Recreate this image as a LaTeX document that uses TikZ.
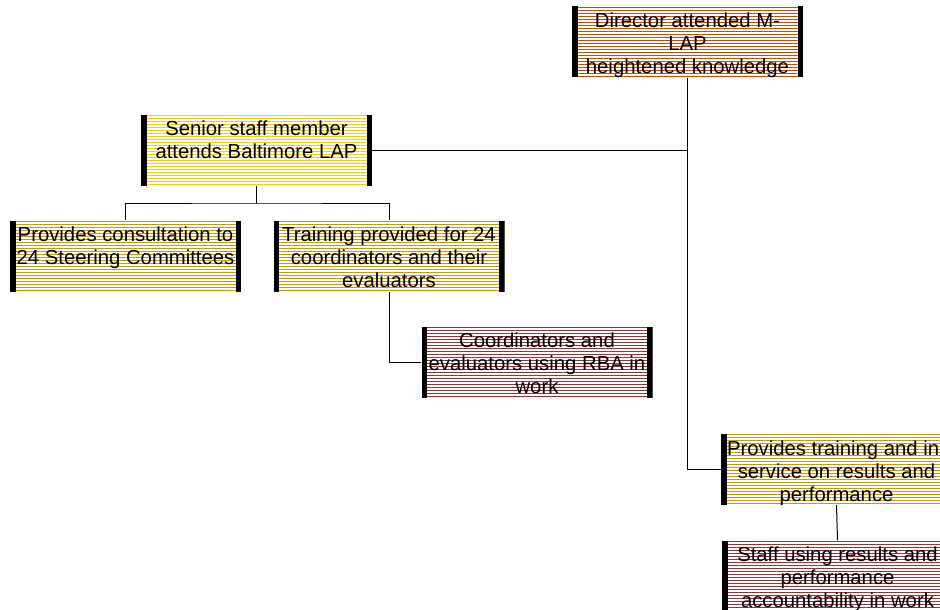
\documentclass[tikz,border=0pt]{standalone}
\usepackage{fontspec}
\setmainfont{Liberation Sans}
\definecolor{orangeS}{RGB}{204,76,0}
\definecolor{yellowS}{RGB}{255,204,0}
\definecolor{goldS}{RGB}{204,153,0}
\definecolor{maroonS}{RGB}{153,51,51}
\tikzset{
  striped/.style 2 args={rectangle, inner sep=0pt, minimum width=231pt, minimum height=71pt,
    path picture={
      \foreach \k in {0,...,23}
        \draw[#1, line width=#2]
          ([yshift={-(\k*3+0.75)*1pt}]path picture bounding box.north west) --
          ([yshift={-(\k*3+0.75)*1pt}]path picture bounding box.north east);
      \fill[black] (path picture bounding box.north west) rectangle ([xshift=5.5pt]path picture bounding box.south west);
      \fill[black] ([xshift=-5.5pt]path picture bounding box.north east) rectangle (path picture bounding box.south east);
    }},
  orangebox/.style={striped={orangeS}{1.3pt}},
  yellowbox/.style={striped={yellowS}{1.4pt}},
  goldbox/.style={striped={goldS}{1.3pt}},
  maroonbox/.style={striped={maroonS}{1.0pt}},
  txt/.style={anchor=north, inner sep=0pt, align=center, yshift=-5pt,
    font=\fontsize{20.3}{23}\selectfont},
  conn/.style={draw=black, line width=1pt}
}
\begin{document}
\begin{tikzpicture}[x=1pt,y=-1pt]
\useasboundingbox[fill=white] (0,0) rectangle (940,610);

\node[orangebox] (dir) at (687.5,42) {};
\node[yellowbox] (sen) at (256.5,150) {};
\node[goldbox] (cons) at (125.5,256) {};
\node[goldbox] (train) at (389,256) {};
\node[maroonbox] (coord) at (537,362) {};
\node[goldbox] (prov) at (836.5,469.5) {};
\node[maroonbox] (staff) at (837.5,576) {};

\node[txt] (tdir) at (dir.north) {\strut Director attended M-\\LAP\\heightened knowledge};
\node[txt] (tsen) at (sen.north) {\strut Senior staff member\\attends Baltimore LAP};
\node[txt] (tcons) at (cons.north) {\strut Provides consultation to\\24 Steering Committees};
\node[txt] (ttrain) at (train.north) {\strut Training provided for 24\\coordinators and their\\evaluators};
\node[txt] (tcoord) at (coord.north) {\strut Coordinators and\\evaluators using RBA in\\work};
\node[txt] (tprov) at (prov.north) {\strut Provides training and in-\\service on results and\\performance};
\node[txt] (tstaff) at (staff.north) {\strut Staff using results and\\performance\\accountability in work};

\coordinate (fork) at (256.5,203);
\draw[conn] (dir.south) |- (prov.west);
\draw[conn] (sen.east) -- (sen.east -| dir.south);
\draw[conn] (sen.south) -- (fork);
\draw[conn] (cons.north) |- (fork) -| (train.north);
\draw[conn] (train.south) |- (coord.west);
\draw[conn] (prov.south) -- (staff.north);
\end{tikzpicture}
\end{document}
